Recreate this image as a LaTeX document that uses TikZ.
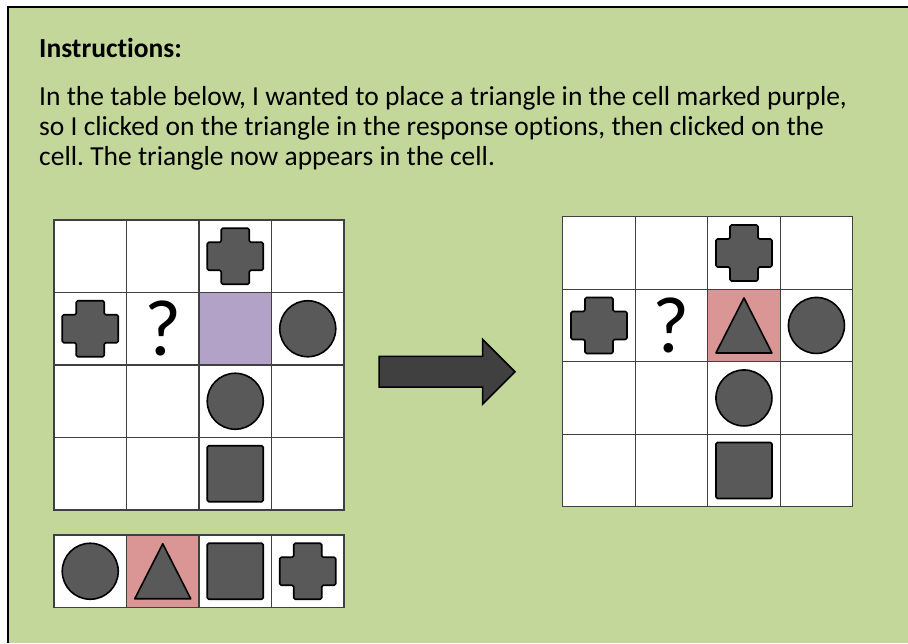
\documentclass[tikz,border=0pt]{standalone}
\usepackage{fontspec}
\setmainfont{Carlito}[Ligatures={NoCommon}]
\usetikzlibrary{shapes.arrows, positioning}
\definecolor{panelgreen}{HTML}{C4D79B}
\definecolor{shapegrey}{HTML}{595959}
\definecolor{markpurple}{HTML}{B3A2C7}
\definecolor{markred}{HTML}{D99694}
\definecolor{arrowgrey}{HTML}{404040}
\frenchspacing
\tikzset{
  % Instruction text
  heading/.style={anchor=base west, inner sep=0pt, font=\fontsize{27.5}{30}\selectfont\bfseries},
  bodytext/.style={anchor=base west, inner sep=0pt, font=\fontsize{27.5}{30}\selectfont},
  % Table cells
  cell/.style={draw=black!75, line width=1.2pt, fill=white, minimum size=72.5pt, inner sep=0pt, outer sep=0pt},
  % Shapes placed in cells
  token/.style={draw=black, line width=1.6pt, fill=shapegrey, line join=round},
  qmark/.style={inner sep=0pt, font=\fontsize{80}{80}\selectfont},
  plustok/.pic={\draw[token, rounded corners=1.5pt] (-14,-28) -- (14,-28) -- (14,-14) -- (28,-14) -- (28,14) -- (14,14) -- (14,28) -- (-14,28) -- (-14,14) -- (-28,14) -- (-28,-14) -- (-14,-14) -- cycle;},
  circletok/.pic={\draw[token] (0,0) circle[radius=28];},
  squaretok/.pic={\draw[token, rounded corners=1.5pt] (-28,-28) rectangle (28,28);},
  triangletok/.pic={\draw[token] (-28,27.5) -- (28,27.5) -- (0,-27.5) -- cycle;},
  % Block arrow
  flowarrow/.style={single arrow, draw=black, line width=1.5pt, fill=arrowgrey, inner xsep=0pt, inner ysep=14.65pt, outer sep=0pt,
    minimum height=136pt, single arrow head extend=17pt, single arrow head indent=0pt},
}
\begin{document}
\begin{tikzpicture}[x=1pt, y=-1pt]
  \useasboundingbox (0,0) rectangle (908,643);
  \fill[white] (0,0) rectangle (908,643);
  \fill[panelgreen] (8,7) rectangle (908,643);
  \draw[line width=2pt] (8,643) -- (8,7) -- (908,7);

  % instructions
  \node[heading] (title) at (39,57) {Instructions:};
  \node[bodytext] (line1) at (39,105) {In the table below, I wanted to place a triangle in the cell marked purple,};
  \node[bodytext] (line2) at (39,135) {so I clicked on the triangle in the response options, then clicked on the};
  \node[bodytext] (line3) at (39,165) {cell. The triangle now appears in the cell.};

  % table before
  \foreach \r in {1,...,4}
    \foreach \c in {1,...,4}
      \node[cell] (L-\r-\c) at ({54+72.5*\c-36.25}, {220+72.5*\r-36.25}) {};
  \node[cell, fill=markpurple] (Lmark) at (L-2-3) {};
  \pic at (L-1-3) {plustok};
  \pic at (L-2-1) {plustok};
  \node[qmark] (Lq) at (L-2-2) {?};
  \pic at (L-2-4) {circletok};
  \pic at (L-3-3) {circletok};
  \pic at (L-4-3) {squaretok};

  % response options
  \foreach \c in {1,...,4}
    \node[cell] (O-\c) at ({54+72.5*\c-36.25}, 571.25) {};
  \node[cell, fill=markred] (Omark) at (O-2) {};
  \pic at (O-1) {circletok};
  \pic at (O-2) {triangletok};
  \pic at (O-3) {squaretok};
  \pic at (O-4) {plustok};

  % arrow
  \node[flowarrow, anchor=tip] (flow) at (515,371.7) {};

  % table after
  \foreach \r in {1,...,4}
    \foreach \c in {1,...,4}
      \node[cell] (R-\r-\c) at ({562.7+72.5*\c-36.25}, {216.7+72.5*\r-36.25}) {};
  \node[cell, fill=markred] (Rmark) at (R-2-3) {};
  \pic at (R-1-3) {plustok};
  \pic at (R-2-1) {plustok};
  \node[qmark] (Rq) at (R-2-2) {?};
  \pic at (R-2-3) {triangletok};
  \pic at (R-2-4) {circletok};
  \pic at (R-3-3) {circletok};
  \pic at (R-4-3) {squaretok};
\end{tikzpicture}
\end{document}
